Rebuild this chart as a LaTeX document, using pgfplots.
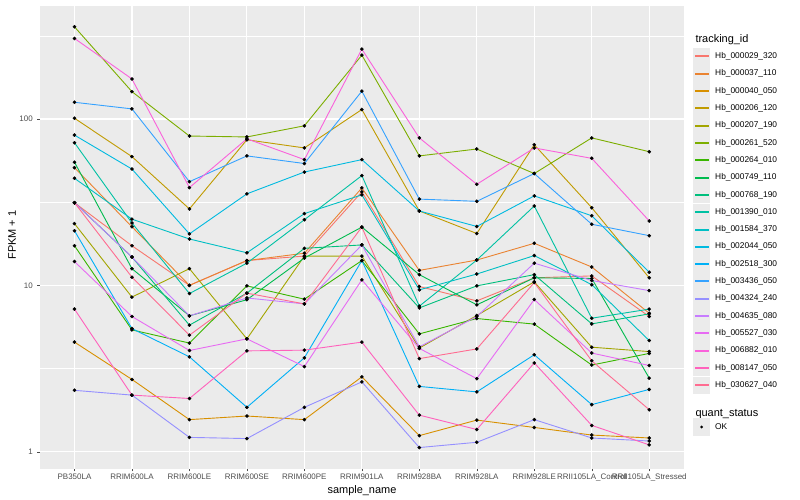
\documentclass[border=0pt]{standalone}
\usepackage{pgfplots}
\pgfplotsset{compat=1.18}
\usepackage{pgfplotstable}
\usepackage{fontspec}
\setmainfont{Liberation Sans}

\definecolor{c1}{HTML}{F8766D}
\definecolor{c2}{HTML}{EA8331}
\definecolor{c3}{HTML}{D89000}
\definecolor{c4}{HTML}{C09B00}
\definecolor{c5}{HTML}{A3A500}
\definecolor{c6}{HTML}{7CAE00}
\definecolor{c7}{HTML}{39B600}
\definecolor{c8}{HTML}{00BB4E}
\definecolor{c9}{HTML}{00BF7D}
\definecolor{c10}{HTML}{00C1A3}
\definecolor{c11}{HTML}{00BFC4}
\definecolor{c12}{HTML}{00BAE0}
\definecolor{c13}{HTML}{00B0F6}
\definecolor{c14}{HTML}{35A2FF}
\definecolor{c15}{HTML}{9590FF}
\definecolor{c16}{HTML}{C77CFF}
\definecolor{c17}{HTML}{E76BF3}
\definecolor{c18}{HTML}{FA62DB}
\definecolor{c19}{HTML}{FF62BC}
\definecolor{c20}{HTML}{FF6C91}
\definecolor{panel}{HTML}{EBEBEB}
\definecolor{ticktext}{HTML}{4D4D4D}

% FPKM + 1, one column per tracking_id, rows = samples 0..10
\pgfplotstableread{
x   s1    s2    s3    s4    s5    s6    s7    s8    s9    s10   s11   s12   s13   s14   s15   s16   s17   s18   s19   s20
0   31.4  51    4.56  101   23.5  358   17.3  55    31.4  72    44    80    21.3  126   2.34  31.4  13.9  305   7.2   31.4
1   17.3  22.5  2.72  59.4  8.5   146   5.4   12.6  14.8  23.7  25    50    5.5   115   2.19  14.8  6.5   174   2.19  11.2
2   10.0  10.0  1.56  28.8  12.6  79    4.5   6.56  5.77  8.93  19    20.4  3.72  42    1.22  6.56  4.06  38.7  2.09  5.02
3   14.1  14.1  1.64  75    4.77  78    9.93  8.2   8.98  13.6  15.7  35.5  1.85  60    1.20  8.4   4.77  76    4.04  8.98
4   15.0  15.6  1.56  67    15.0  91    8.26  14.6  16.7  24.8  27    48    3.67  54    1.85  7.74  3.25  57    4.08  7.74
5   36.5  38.5  2.82  114   15.0  242   14.1  22.4  17.5  45.7  35    57    14.1  147   2.63  17.5  10.8  263   4.56  22.4
6   9.84  12.3  1.25  28    4.2   60    5.11  11.6  7.32  7.5   9.4   28    2.47  33    1.06  4.27  4.18  77    1.66  3.63
7   8.07  14.2  1.55  20.5  6.59  66    6.32  7.64  9.93  14.2  11.7  22.6  2.29  32    1.14  6.5   2.75  40.5  1.36  4.15
8   11.1  17.9  1.40  70    10.5  47    5.85  11.1  11.6  30    15.1  34.5  3.83  47    1.56  13.6  8.22  67    3.42  10.4
9   11.4  12.9  1.26  29.3  4.25  77    3.32  11.0  5.87  6.35  10.1  26.2  1.92  23.3  1.21  10.7  3.92  58    1.44  3.52
10  6.5   6.8   1.21  11.1  4.0   63.6  3.9   2.77  6.74  7.2   4.66  12.0  2.37  19.9  1.16  9.3   3.30  24.4  1.10  1.79
}\fpkm

\begin{document}
\begin{tikzpicture}
\path[use as bounding box] (0bp,0bp) rectangle (800bp,500bp);
\begin{axis}[
    at={(40bp,31.2bp)}, anchor=south west,
    scale only axis, width=643.7bp, height=463bp,
    ymode=log, ymin=0.79, ymax=479,
    xmin=-0.6, xmax=10.6,
    axis background/.style={fill=panel},
    axis line style={draw=none},
    grid=both,
    major grid style={white, line width=1.1bp},
    minor grid style={white, line width=0.55bp},
    ytick={1,10,100}, yticklabels={1,10,100},
    minor ytick={3.1623,31.623,316.23},
    xtick={0,...,10},
    xticklabels={PB350LA,RRIM600LA,RRIM600LE,RRIM600SE,RRIM600PE,RRIM901LA,RRIM928BA,RRIM928LA,RRIM928LE,RRII105LA\_Control,RRII105LA\_Stressed},
    xtick pos=bottom, ytick pos=left,
    tick align=outside, major tick length=2.7bp, minor tick length=0pt,
    tick style={color=black!70, line width=0.5bp},
    tick label style={font=\fontsize{8}{9}\selectfont, text=ticktext},
    xticklabel style={yshift=1bp},
    yticklabel style={xshift=-1bp},
    clip=false,
]
\pgfplotsinvokeforeach{1,...,20}{
  \addplot[c#1, line width=0.9bp, mark=none] table[x=x, y=s#1]{\fpkm};
}
\pgfplotsinvokeforeach{1,...,20}{
  \addplot[only marks, mark=*, mark size=1.6bp, black] table[x=x, y=s#1]{\fpkm};
}
\end{axis}

% axis titles
\node[font=\fontsize{11}{12}\selectfont] at (362bp,9bp) {sample\_name};
\node[font=\fontsize{11}{12}\selectfont, rotate=90] at (12bp,265bp) {FPKM + 1};

% legend: tracking_id
\node[anchor=west, font=\fontsize{11}{12}\selectfont] at (692bp,460bp) {tracking\_id};
\foreach \n/\lab in {1/Hb\_000029\_320, 2/Hb\_000037\_110, 3/Hb\_000040\_050, 4/Hb\_000206\_120,
  5/Hb\_000207\_190, 6/Hb\_000261\_520, 7/Hb\_000264\_010, 8/Hb\_000749\_110, 9/Hb\_000768\_190,
  10/Hb\_001390\_010, 11/Hb\_001584\_370, 12/Hb\_002044\_050, 13/Hb\_002518\_300, 14/Hb\_003436\_050,
  15/Hb\_004324\_240, 16/Hb\_004635\_080, 17/Hb\_005527\_030, 18/Hb\_006882\_010, 19/Hb\_008147\_050,
  20/Hb\_030627\_040} {
  \pgfmathsetmacro{\yy}{443.5 - 17.3*(\n-1)}
  \pgfmathsetmacro{\ly}{round(\yy)}
  \fill[panel] (693bp,\yy bp-8.6bp) rectangle (710.3bp,\yy bp+8.6bp);
  \fill[c\n] (694.5bp,\ly bp-0.6bp) rectangle (709bp,\ly bp+0.6bp);
  \node[anchor=west, font=\fontsize{8.4}{9}\selectfont, inner sep=0pt] at (715bp,\yy bp) {\lab};
}
% legend: quant_status
\node[anchor=west, font=\fontsize{11}{12}\selectfont] at (692bp,86bp) {quant\_status};
\fill[panel] (693bp,64.4bp) rectangle (710.3bp,81.7bp);
\fill[black] (701.6bp,73bp) circle (1.6bp);
\node[anchor=west, font=\fontsize{8.4}{9}\selectfont, inner sep=0pt] at (715bp,73bp) {OK};
\end{tikzpicture}
\end{document}
